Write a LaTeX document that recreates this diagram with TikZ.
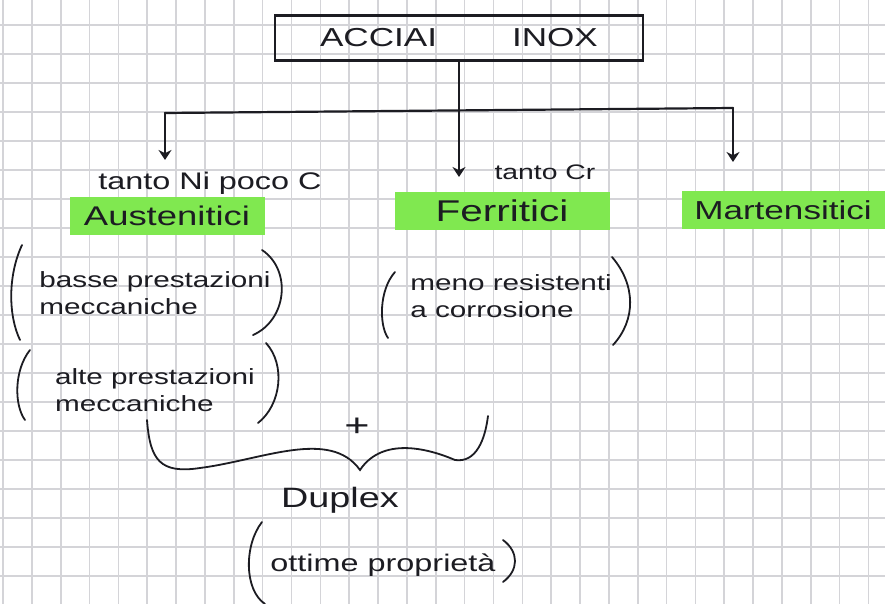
\documentclass[tikz,border=0pt]{standalone}
\usepackage{fontspec}
\newfontfamily\hand[FakeStretch=1.35]{Liberation Sans}
\usepackage{tikz}
\usetikzlibrary{arrows.meta}
\definecolor{ink}{RGB}{28,28,34}
\definecolor{squares}{RGB}{212,212,216}
\definecolor{marker}{RGB}{128,232,80}
\newcommand{\handsize}[2]{\fontsize{#1}{#2}\selectfont}

\begin{document}
\begin{tikzpicture}[x=1pt,y=-1pt,>={Stealth[length=10pt,width=13pt]},
	pen/.style={draw=ink,line width=2.2pt,line cap=round},
	paren/.style={draw=ink,line width=1.8pt,line cap=round},
	gridline/.style={draw=squares,line width=1.6pt},
	every node/.style={text=ink,font=\hand},
	marked/.style={fill=marker,minimum height=38pt,inner sep=0pt},
	note/.style={align=left,font=\hand\handsize{22}{27}}]

	\fill[white] (0,0) rectangle (885,604);
	\useasboundingbox (0,0) rectangle (885,604);

	% squared paper
	\foreach \i in {0,...,30}
		\draw[gridline] ({3+28.85*\i},0) -- ({3+28.85*\i},604);
	\foreach \j in {0,...,19}
		\draw[gridline] (0,{25+29*\j}) -- (885,{25+29*\j});

	\node[pen,minimum width=368pt,minimum height=45pt] (inox) at (459,38) {\handsize{26}{31}ACCIAI\hspace{75pt}INOX};

	\node (ni) at (210,183) {\handsize{24}{29}tanto Ni poco C};
	\node (cr) at (545,172) {\handsize{21}{25}tanto Cr};

	\node[marked,minimum width=195pt] (aus) at (167,216) {\handsize{27}{32}Austenitici};
	\node[marked,minimum width=215pt] (fer) at (502,211) {\handsize{30}{36}Ferritici};
	\node[marked,minimum width=203pt] (mar) at (783,210) {\handsize{26}{31}Martensitici};

	\node[note] (basse) at (155,293) {basse prestazioni\\meccaniche};
	\node[note] (alte) at (155,390) {alte prestazioni\\meccaniche};
	\node[note] (meno) at (511,296) {meno resistenti\\a corrosione};

	\node[font=\hand\handsize{32}{36}] (piu) at (357,427) {+};
	\node[font=\hand\handsize{28}{34}] (duplex) at (340,500) {Duplex};
	\node[font=\hand\handsize{24}{29}] (ottime) at (383,565) {ottime proprietà};

	% tree
	\coordinate (jA) at (165,113);
	\coordinate (jM) at (733,108);
	\coordinate (tA) at (165,160);
	\coordinate (tF) at (459,177);
	\coordinate (tM) at (733,162);

	\draw[pen] (jA) -- (jM);
	\draw[pen,->] (inox.south) -- (tF);
	\draw[pen,->] (jA) -- (tA);
	\draw[pen,->] (jM) -- (tM);

	% brackets
	\draw[paren] (22,245) .. controls (8,275) and (8,315) .. (20,340);
	\draw[paren] (262,250) .. controls (292,270) and (287,320) .. (253,335);
	\draw[paren] (30,350) .. controls (14,370) and (14,405) .. (25,420);
	\draw[paren] (266,343) .. controls (286,365) and (281,405) .. (258,423);
	\draw[paren] (395,272) .. controls (379,290) and (379,325) .. (388,338);
	\draw[paren] (612,257) .. controls (636,285) and (636,320) .. (613,345);
	\draw[paren] (262,522) .. controls (244,545) and (244,590) .. (265,604);
	\draw[paren] (503,540) .. controls (519,552) and (519,570) .. (503,582);

	% brace
	\draw[paren] (147,420) .. controls (150,460) and (160,474) .. (200,468)
		.. controls (262,460) and (330,428) .. (360,470)
		.. controls (380,440) and (420,445) .. (455,460)
		.. controls (476,463) and (485,440) .. (488,416);
\end{tikzpicture}
\end{document}
